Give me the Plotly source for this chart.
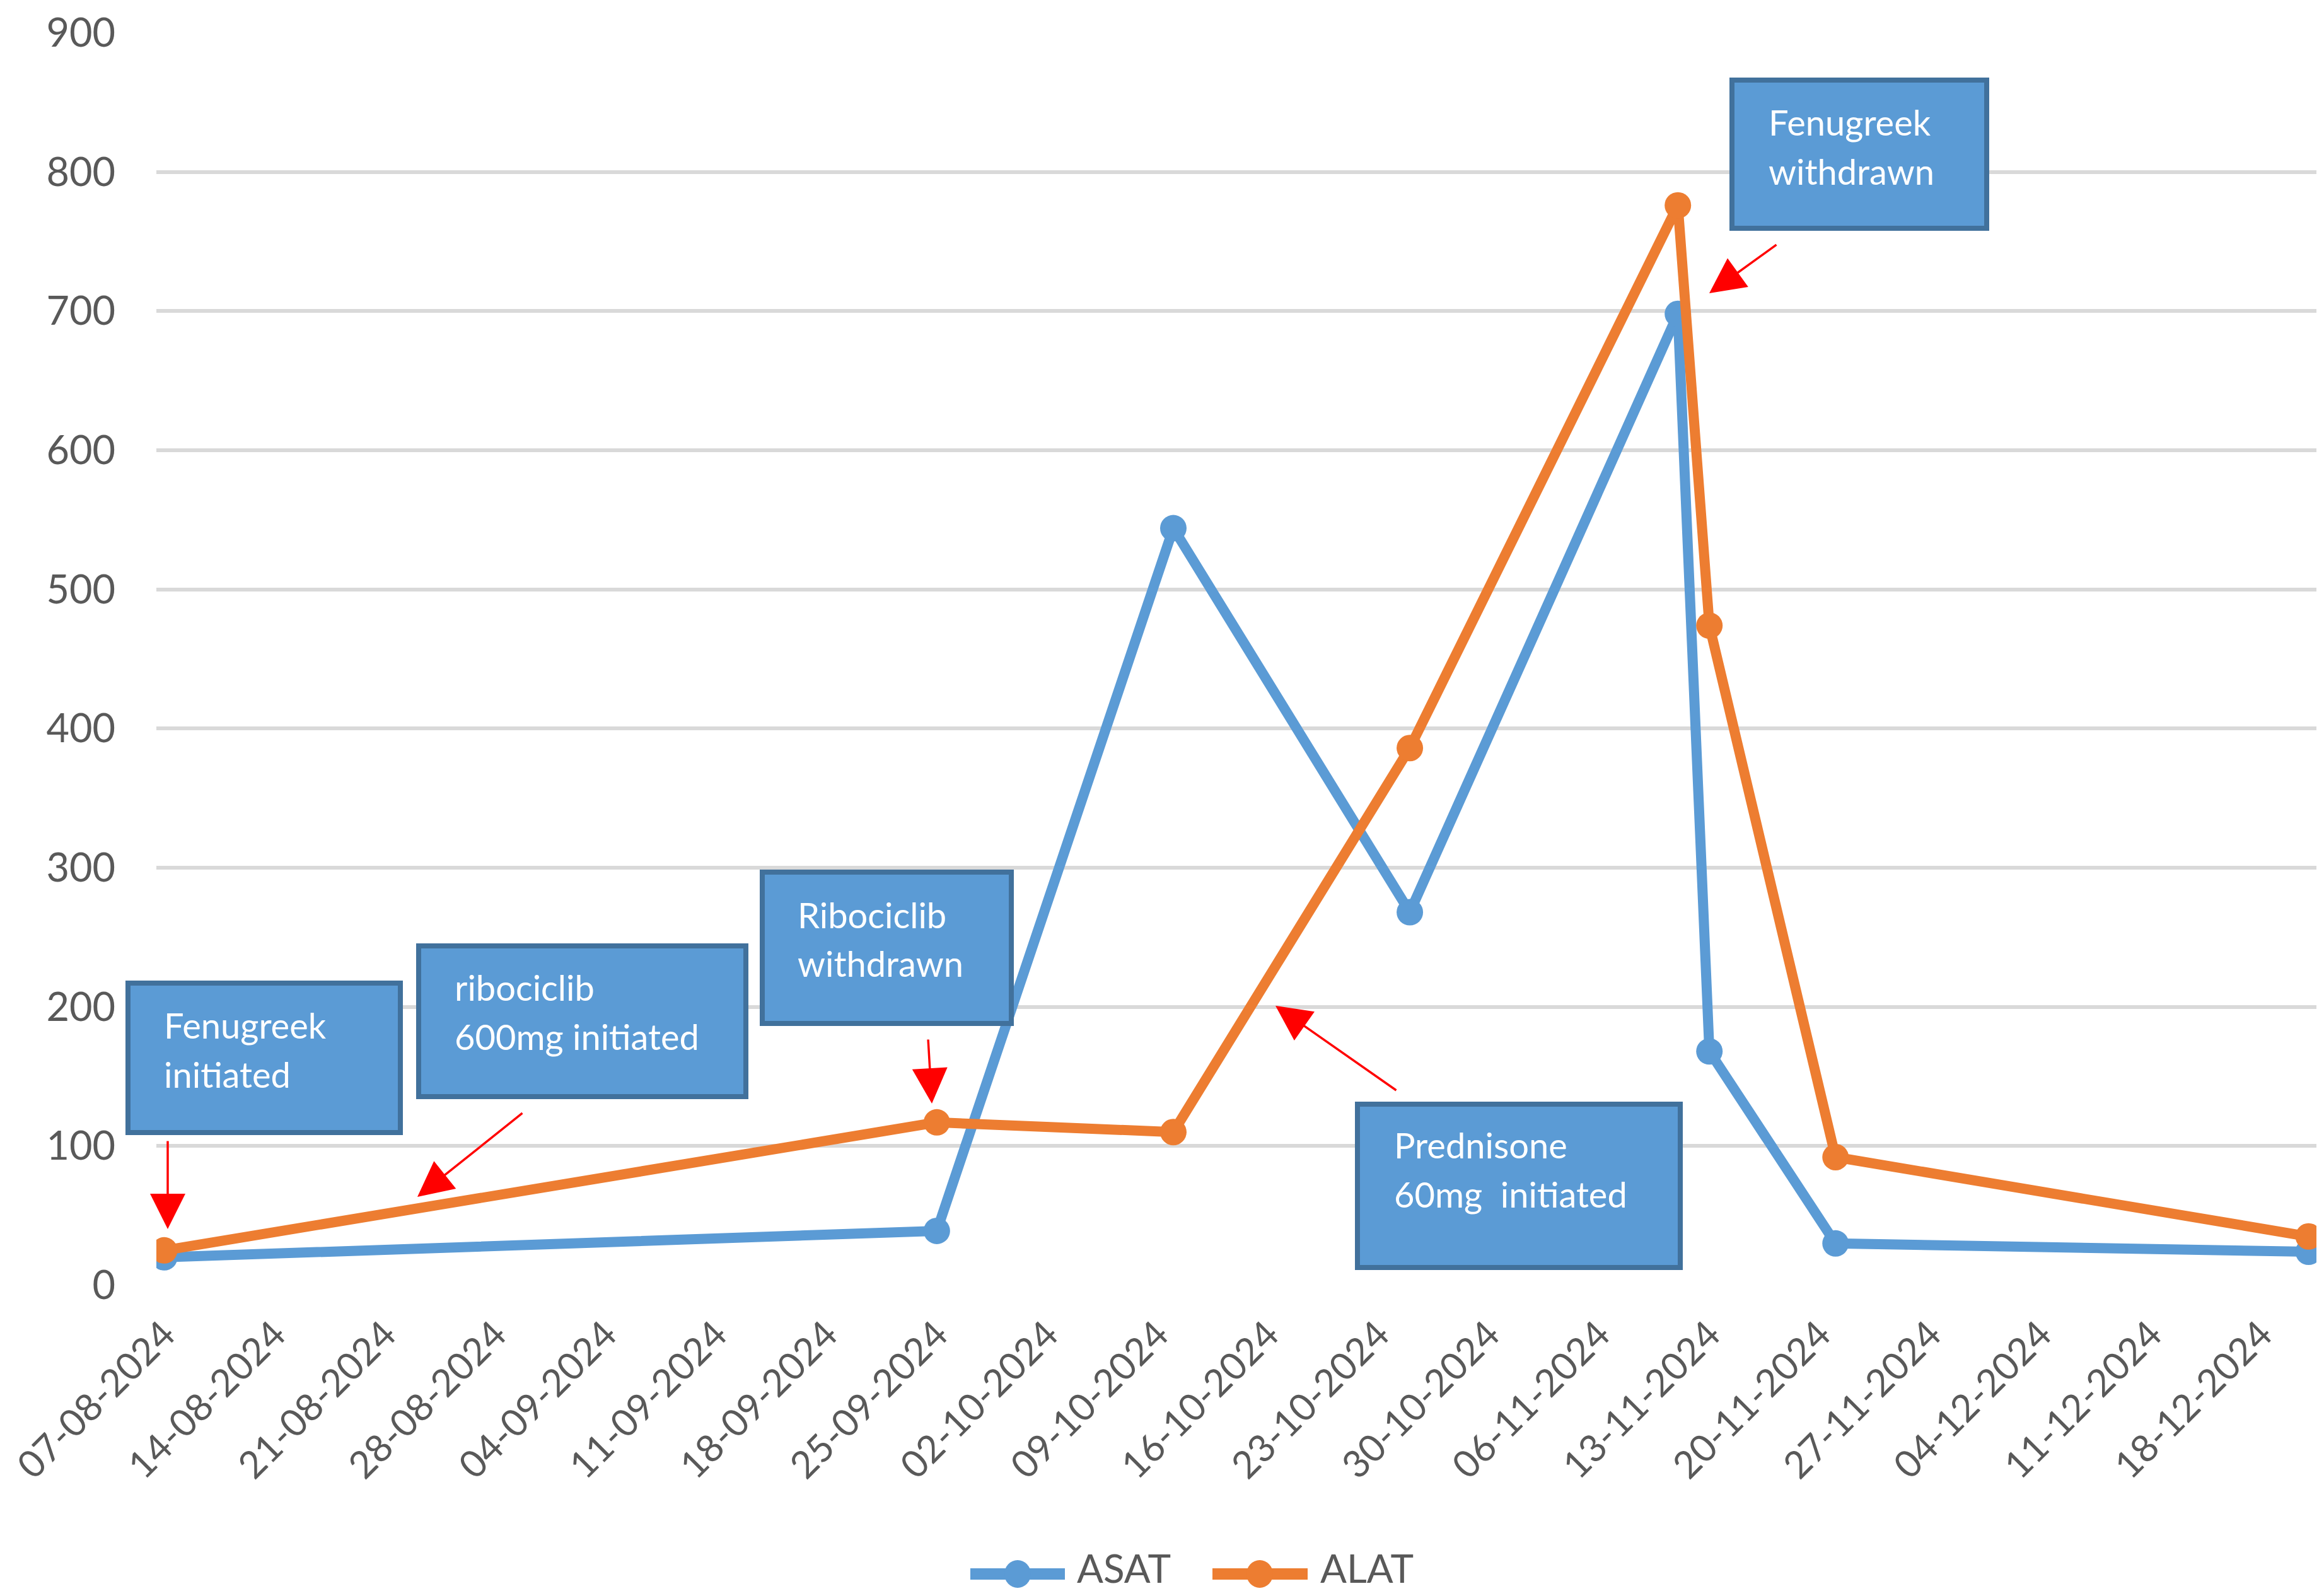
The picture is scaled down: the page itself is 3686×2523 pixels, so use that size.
import plotly.graph_objects as go

# ---------------- data ----------------
dates = ["2024-08-07", "2024-09-25", "2024-10-10", "2024-10-25",
         "2024-11-11", "2024-11-13", "2024-11-21", "2024-12-21"]
asat = [20, 39, 544, 268, 698, 168, 30, 24]
alat = [25, 117, 110, 386, 776, 474, 92, 35]
series_names = ["ASAT", "ALAT"]
series_colors = ["#5B9BD5", "#ED7D31"]

box_texts = [
    ["Fenugreek", "initiated"],
    ["ribociclib", "600mg initiated"],
    ["Ribociclib", "withdrawn"],
    ["Prednisone", "60mg  initiated"],
    ["Fenugreek", "withdrawn"],
]

# ---------------- layout helpers (pixel geometry of the canvas) ----------------
W, H = 3686, 2523
L, R, T, B = 240, 3666, 44, 2030
PW, PH = R - L, B - T


def px(x):
    return (x - L) / PW


def py(y):
    return (B - y) / PH


FONT = "Lato, Carlito, Calibri, sans-serif"
GREY = "#595959"

fig = go.Figure()
for name, vals, col in zip(series_names, [asat, alat], series_colors):
    fig.add_trace(go.Scatter(
        x=dates, y=vals, name=name, mode="lines+markers",
        line=dict(color=col, width=16),
        marker=dict(color=col, size=42),
        showlegend=False,
    ))

shapes = []
annotations = []

# annotation boxes: outer pixel rects and text positions
box_rects = [(191, 1547, 631, 1792), (652, 1488, 1179, 1735), (1197, 1371, 1600, 1619),
             (2141, 1739, 2661, 2006), (2735, 115, 3147, 358)]
box_text_pos = [(250, 1639, 1717), (711, 1579, 1657), (1255, 1464, 1541),
                (2201, 1829, 1908), (2795, 207, 285)]
for (x0, y0, x1, y1), (tx, b1, b2), lines in zip(box_rects, box_text_pos, box_texts):
    shapes.append(dict(type="rect", xref="paper", yref="paper",
                       x0=px(x0 + 4), x1=px(x1 - 4), y0=py(y0 + 4), y1=py(y1 - 4),
                       fillcolor="#5B9BD5", line=dict(color="#41719C", width=8),
                       layer="above"))
    for txt, base in zip(lines, [b1, b2]):
        annotations.append(dict(xref="paper", yref="paper", x=px(tx), y=py(base - 22),
                                xanchor="left", yanchor="middle", showarrow=False,
                                text=txt, font=dict(family=FONT, size=56, color="white")))

# red arrows: (tip, tail) pixel positions
arrows = [((258, 1941), (258, 1800)), ((654, 1890), (822, 1756)),
          ((1470, 1742), (1464, 1639)), ((2015, 1587), (2208, 1722)),
          ((2703, 457), (2811, 379))]
for (tx, ty), (sx, sy) in arrows:
    annotations.append(dict(xref="paper", yref="paper", x=px(tx), y=py(ty),
                            ax=sx - tx, ay=sy - ty, axref="pixel", ayref="pixel",
                            text="", showarrow=True, arrowhead=2, arrowsize=3.2,
                            arrowwidth=3.5, arrowcolor="#FF0000", standoff=0))

# custom legend
legend_items = [(1522, 1690, 1606, 1698), (1906, 2075, 1990, 2084)]
ly = 2488
for (lx0, lx1, mx, tx), name, col in zip(legend_items, series_names, series_colors):
    shapes.append(dict(type="line", xref="paper", yref="paper",
                       x0=px(lx0 + 9), x1=px(lx1 - 9), y0=py(ly), y1=py(ly),
                       line=dict(color=col, width=18)))
    shapes.append(dict(type="circle", xref="paper", yref="paper",
                       x0=px(mx - 21), x1=px(mx + 21), y0=py(ly - 22), y1=py(ly + 22),
                       fillcolor=col, line=dict(color=col, width=0)))
    annotations.append(dict(xref="paper", yref="paper", x=px(tx), y=py(2478),
                            xanchor="left", yanchor="middle", showarrow=False,
                            text=name, font=dict(family=FONT, size=62, color=GREY)))

fig.update_layout(
    width=W, height=H,
    margin=dict(l=L, r=W - R, t=T, b=H - B, autoexpand=False),
    paper_bgcolor="white", plot_bgcolor="white",
    font=dict(family=FONT, size=63, color=GREY),
    shapes=shapes, annotations=annotations,
    showlegend=False,
    xaxis=dict(
        type="date",
        range=["2024-08-06 12:00", "2024-12-21 12:00"],
        tick0="2024-08-07", dtick=7 * 86400000,
        tickformat="%d-%m-%Y", tickangle=-45,
        showgrid=False, zeroline=False, showline=False, ticks="",
        tickfont=dict(family=FONT, size=60, color=GREY),
        ticklabelstandoff=30, ticklabeloverflow="allow",
    ),
    yaxis=dict(
        range=[0, 900.01], dtick=100, tick0=0,
        showgrid=True, gridcolor="#D9D9D9", gridwidth=6,
        zeroline=False, showline=False, ticks="",
        tickfont=dict(family=FONT, size=63, color=GREY),
        ticklabelstandoff=64, ticklabeloverflow="allow",
    ),
)

fig.write_html("out.html")
